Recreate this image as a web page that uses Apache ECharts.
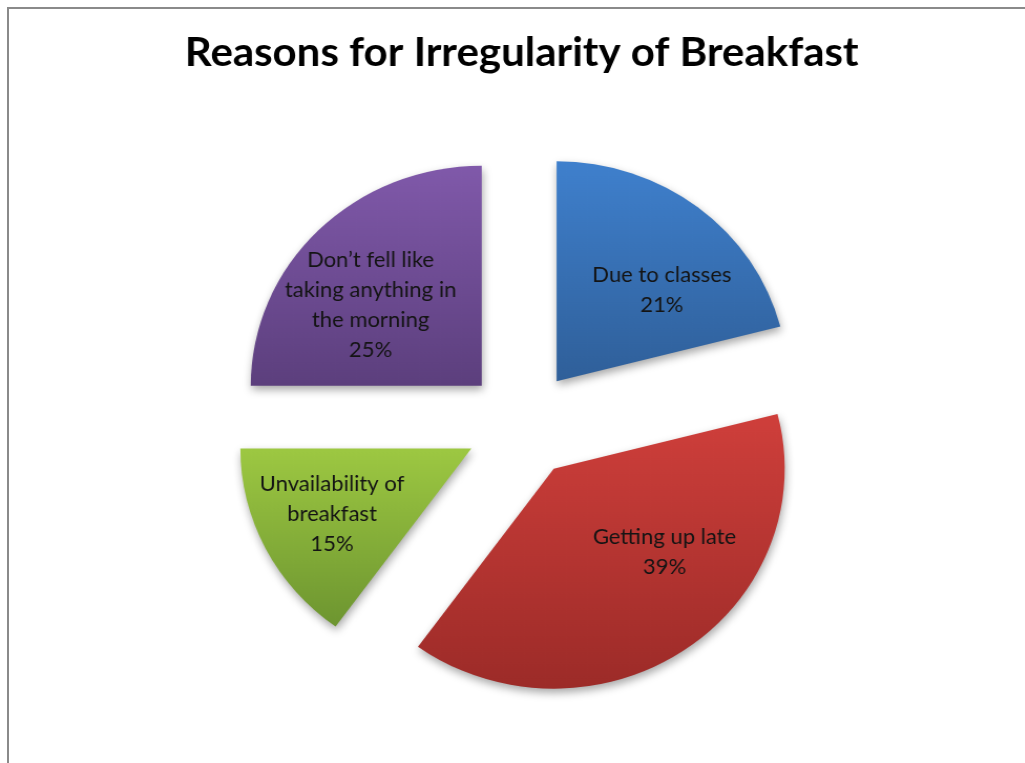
<!DOCTYPE html>
<html>
<head>
<meta charset="utf-8">
<script src="https://cdn.jsdelivr.net/npm/echarts@6/dist/echarts.min.js"></script>
<style>
html,body{margin:0;padding:0;background:#fff;overflow:hidden;}
#frame{position:absolute;left:7px;top:7px;width:1030px;height:770px;border-left:2px solid #8a8a8a;border-top:2px solid #8a8a8a;box-sizing:border-box;}
/* the original picture is slightly wider than tall: stretch horizontally a little */
#chart{position:absolute;left:0;top:0;width:976px;height:763px;transform-origin:0 0;transform:scale(1.05,1);}
</style>
</head>
<body>
<div id="frame"></div>
<div id="chart"></div>
<script>
const titleText = 'Reasons for Irregularity of Breakfast';
const categories = [
  'Due to classes',
  'Getting up late',
  'Unvailability of\nbreakfast',
  'Don\u2019t fell like\ntaking anything in\nthe morning'
];
const values = [21, 39, 15, 25];
const topColors = ['#3f80cd', '#cf3f3b', '#9dc842', '#8059aa'];
const bottomColors = ['#2f5f99', '#9c2b28', '#6d9530', '#5c3f7d'];

function grad(i) {
  return new echarts.graphic.LinearGradient(0, 0, 0, 1, [
    {offset: 0, color: topColors[i]},
    {offset: 1, color: bottomColors[i]}
  ]);
}

// small nudges so the inside labels sit where the original places them
const labelNudge = [[31, -2], [42, -10], [-32, 14], [-26, -1]];

const chart = echarts.init(document.getElementById('chart'));
chart.setOption({
  animation: false,
  backgroundColor: 'transparent',
  title: {
    text: titleText,
    left: 171,
    top: 28,
    textStyle: {fontFamily: 'Lato', fontWeight: 'bold', fontSize: 40, color: '#000'}
  },
  series: [{
    type: 'pie',
    center: [497, 424],
    radius: [0, 220],
    startAngle: 90,
    clockwise: true,
    selectedMode: 'multiple',
    selectedOffset: 54,
    avoidLabelOverlap: false,
    emphasis: {disabled: true},
    label: {
      position: 'inside',
      fontFamily: 'Lato',
      fontSize: 21,
      lineHeight: 30,
      color: '#141414',
      align: 'center',
      formatter: p => p.name + '\n' + p.value + '%'
    },
    labelLayout: p => ({dx: labelNudge[p.dataIndex][0], dy: labelNudge[p.dataIndex][1]}),
    labelLine: {show: false},
    itemStyle: {
      shadowBlur: 8,
      shadowOffsetX: 1,
      shadowOffsetY: 4,
      shadowColor: 'rgba(0,0,0,0.35)'
    },
    data: categories.map((c, i) => ({
      name: c,
      value: values[i],
      selected: true,
      itemStyle: {color: grad(i)},
      select: {itemStyle: {color: grad(i)}}
    }))
  }]
});
</script>
</body>
</html>
